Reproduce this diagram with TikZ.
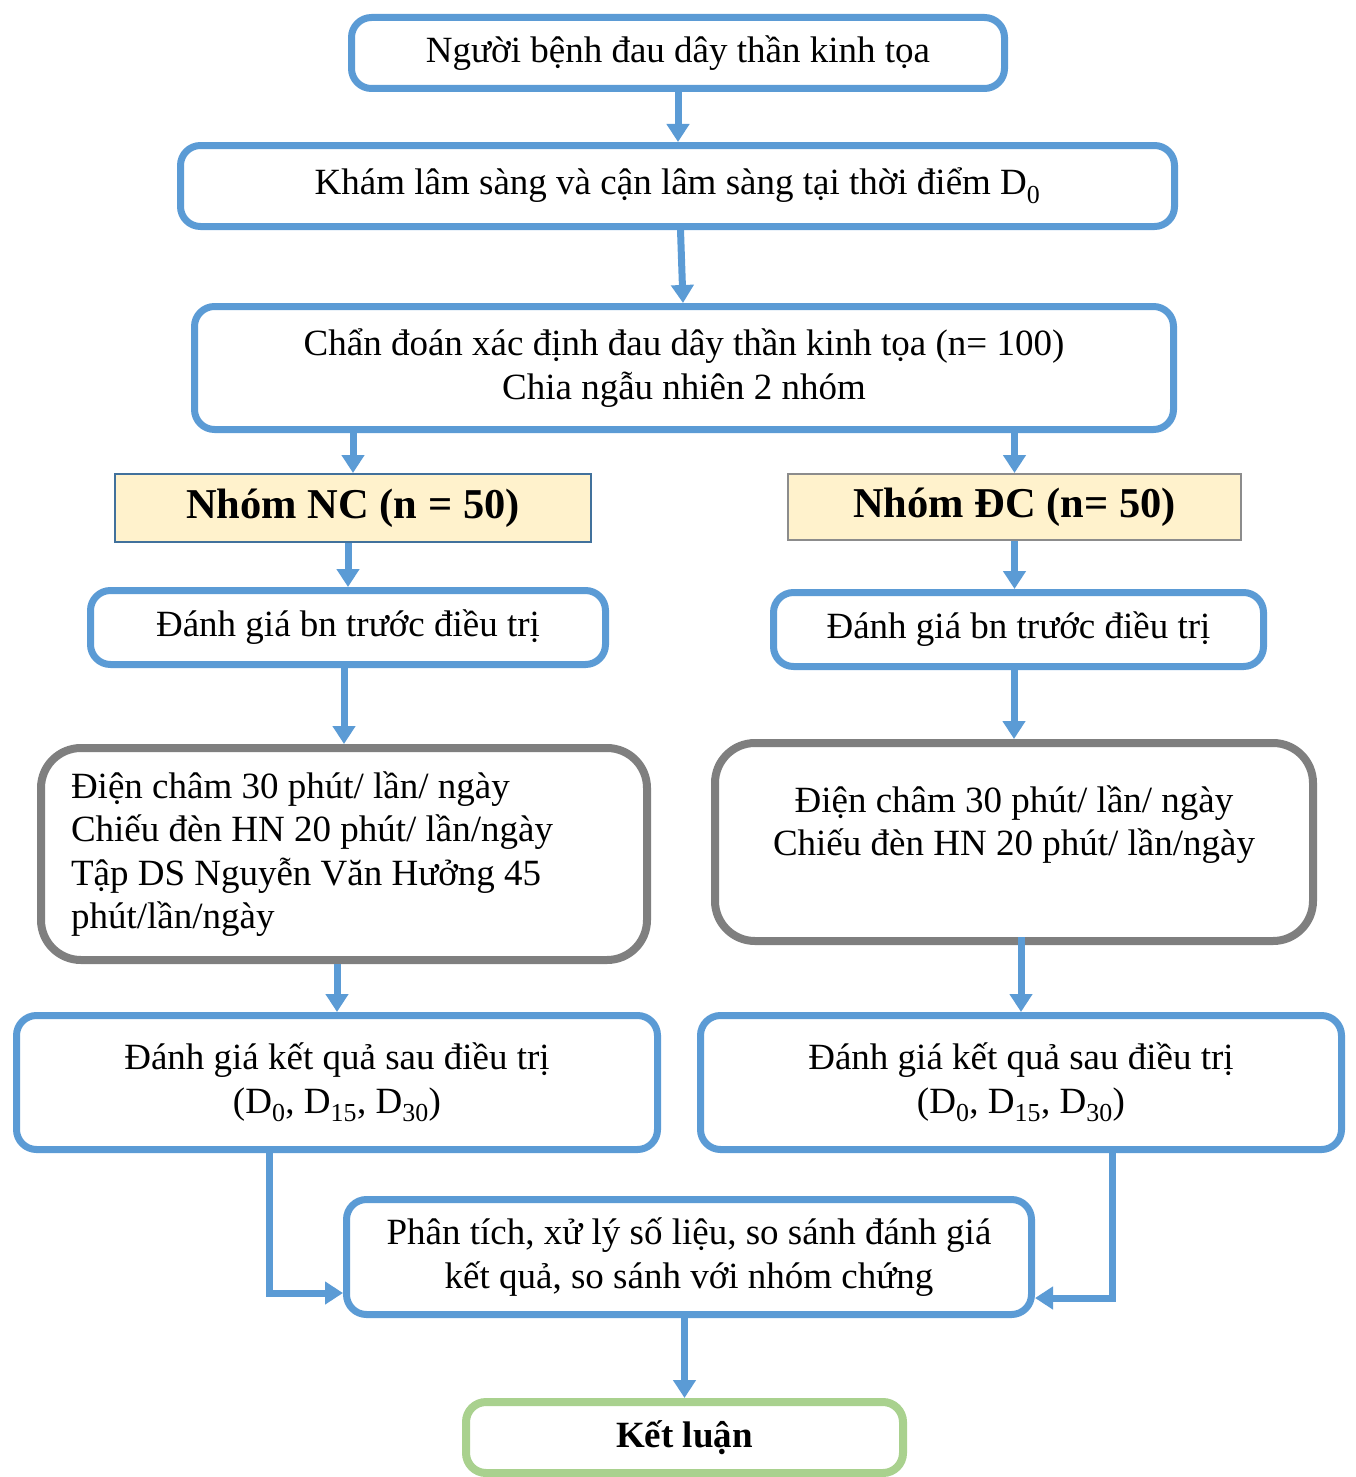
\documentclass[tikz,border=0pt]{standalone}
\usepackage{fontspec}
\setmainfont{Liberation Serif}
\usetikzlibrary{arrows.meta}
\definecolor{flowblue}{HTML}{5B9BD5}
\definecolor{boxgray}{HTML}{7F7F7F}
\definecolor{endgreen}{HTML}{A9D18E}
\definecolor{groupfill}{HTML}{FFF2CC}
\definecolor{ncdraw}{HTML}{41719C}
\definecolor{dcdraw}{HTML}{8C8C8C}
\begin{document}
\begin{tikzpicture}[x=1pt, y=-1pt,
    box/.style={draw=flowblue, line width=7pt, rounded corners=20pt, fill=white, inner sep=0pt, align=center, font=\fontsize{37}{43.5}\selectfont},
    treat/.style={box, draw=boxgray, line width=8pt, rounded corners=40pt},
    group/.style={line width=2pt, fill=groupfill, inner sep=0pt, font=\fontsize{42.5}{50}\selectfont\bfseries},
    flow/.style={-{Triangle[width=22pt,length=18pt]}, line width=7pt, draw=flowblue}
]
\useasboundingbox (0,0) rectangle (1355,1477);

\node[box, minimum width=653pt, minimum height=71pt] (patient) at (678,53) {Người bệnh đau dây thần kinh tọa};
\node[box, minimum width=994pt, minimum height=81pt] (exam) at (677.5,186) {Khám lâm sàng và cận lâm sàng tại thời điểm D\textsubscript{0}};
\node[box, minimum width=979pt, minimum height=123pt] (diag) at (684,368) {Chẩn đoán xác định đau dây thần kinh tọa (n= 100)\\Chia ngẫu nhiên 2 nhóm};

\node[group, draw=ncdraw, minimum width=476pt, minimum height=68pt] (nc) at (353,508) {Nhóm NC (n = 50)};
\node[group, draw=dcdraw, minimum width=453pt, minimum height=66pt] (dc) at (1014.5,507) {Nhóm ĐC (n= 50)};

\node[box, minimum width=515pt, minimum height=74pt] (bnL) at (348,627.5) {Đánh giá bn trước điều trị};
\node[box, minimum width=490pt, minimum height=74pt] (bnR) at (1018.5,629.5) {Đánh giá bn trước điều trị};

\node[treat, text width=546pt, align=flush left, minimum width=606pt, minimum height=212pt] (treatL) at (344,854) {Điện châm 30 phút/ lần/ ngày\\Chiếu đèn HN 20 phút/ lần/ngày\\Tập DS Nguyễn Văn Hưởng 45\\phút/lần/ngày};
\node[treat, minimum width=598pt, minimum height=198pt] (treatR) at (1014,842) {Điện châm 30 phút/ lần/ ngày\\Chiếu đèn HN 20 phút/ lần/ngày\\[-14pt]\strut};

\node[box, minimum width=641pt, minimum height=134pt] (resL) at (337,1082.5) {Đánh giá kết quả sau điều trị\\(D\textsubscript{0}, D\textsubscript{15}, D\textsubscript{30})};
\node[box, minimum width=641pt, minimum height=134pt] (resR) at (1021,1082.5) {Đánh giá kết quả sau điều trị\\(D\textsubscript{0}, D\textsubscript{15}, D\textsubscript{30})};

\node[box, minimum width=685pt, minimum height=115pt] (analysis) at (689,1257) {Phân tích, xử lý số liệu, so sánh đánh giá\\kết quả, so sánh với nhóm chứng};
\node[box, draw=endgreen, line width=8pt, minimum width=437pt, minimum height=71pt, font=\fontsize{37}{43.5}\selectfont\bfseries] (concl) at (684.5,1437.5) {Kết luận};

\draw[flow] (patient.south) -- (patient.south |- exam.north);
\draw[flow] ([xshift=3pt]exam.south) -- ([xshift=-1pt]diag.north);
\draw[flow] ([yshift=6pt]diag.south -| nc.north) -- (nc.north);
\draw[flow] ([yshift=6pt]diag.south -| dc.north) -- (dc.north);
\draw[flow] (nc.south -| bnL.north) -- (bnL.north);
\draw[flow] (dc.south) -- (dc.south |- bnR.north);
\draw[flow] (bnL.south -| treatL.north) -- (treatL.north);
\draw[flow] (bnR.south -| treatR.north) -- (treatR.north);
\draw[flow] (treatL.south -| resL.north) -- (resL.north);
\draw[flow] ([yshift=8pt]treatR.south -| resR.north) -- (resR.north);
\draw[flow] ([xshift=-68pt]resL.south) |- ([yshift=-36pt]analysis.west);
\draw[flow] ([xshift=91pt]resR.south) |- ([yshift=-41pt]analysis.east);
\draw[flow] (analysis.south -| concl.north) -- (concl.north);

\end{tikzpicture}
\end{document}
